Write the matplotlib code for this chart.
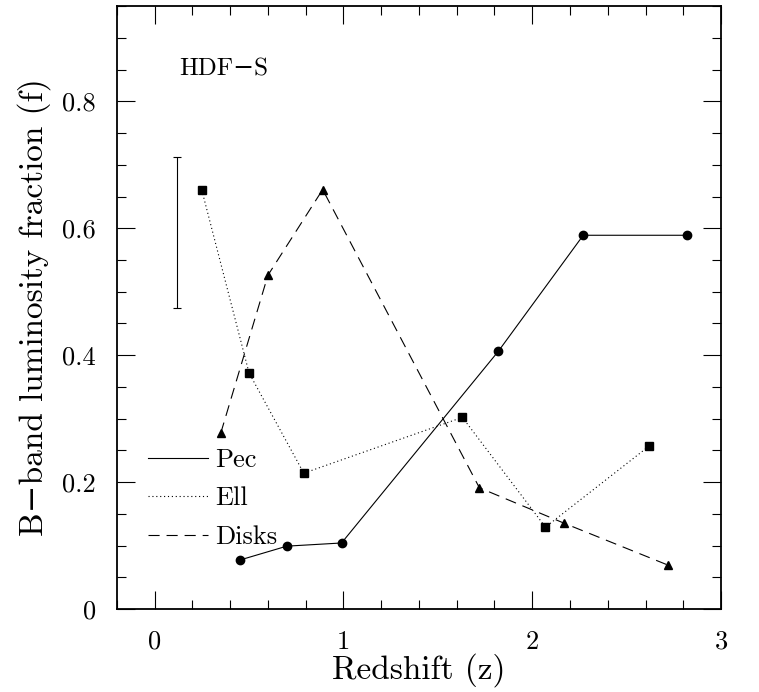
import matplotlib
matplotlib.use("Agg")
import matplotlib.pyplot as plt
import numpy as np
from matplotlib.ticker import MultipleLocator

plt.rcParams['font.family'] = ['cmr10', 'DejaVu Serif']
plt.rcParams['axes.formatter.use_mathtext'] = True
plt.rcParams['lines.scale_dashes'] = False

# Pec (solid, circles)
pec_z = [0.45, 0.70, 0.99, 1.82, 2.27, 2.82]
pec_f = [0.077, 0.099, 0.104, 0.406, 0.589, 0.589]
# Ell (dotted, squares)
ell_z = [0.25, 0.50, 0.79, 1.63, 2.07, 2.62]
ell_f = [0.660, 0.372, 0.214, 0.302, 0.129, 0.257]
# Disks (dashed, triangles)
disk_z = [0.35, 0.60, 0.89, 1.72, 2.17, 2.72]
disk_f = [0.277, 0.526, 0.661, 0.191, 0.135, 0.069]
# typical error bar
err_z = 0.12
err_f = 0.593
err_size = 0.119

fig = plt.figure(figsize=(7.59, 6.92), dpi=100)
ax = fig.add_axes([0.154, 0.120, 0.796, 0.871])

ax.plot(pec_z, pec_f, '-', color='black', lw=0.8, marker='o', ms=6, label='Pec')
ax.plot(ell_z, ell_f, color='black', lw=0.8, dashes=(0.8, 2.0), marker='s', ms=5.5, label='Ell')
ax.plot(disk_z, disk_f, color='black', lw=0.8, dashes=(8.0, 5.0), marker='^', ms=5.5, label='Disks')
ax.errorbar([err_z], [err_f], yerr=[err_size], fmt='none', ecolor='black', elinewidth=0.8, capsize=3, capthick=0.8)

ax.text(0.13, 0.85, 'HDF−S', fontsize=18, ha='left', va='center')

leg = ax.legend(loc='upper left', bbox_to_anchor=(0.051, 0.267), frameon=False, fontsize=19,
                handlelength=2.27, handletextpad=0.27, labelspacing=0.56,
                borderpad=0, borderaxespad=0)
for h in leg.legend_handles:
    h.set_marker('')

ax.set_xlim(-0.2, 3)
ax.set_ylim(0, 0.95)
ax.xaxis.set_minor_locator(MultipleLocator(0.2))
ax.yaxis.set_minor_locator(MultipleLocator(0.05))
ax.set_xticks([0, 1, 2, 3])
ax.set_xticklabels(['0', '1', '2', '3'])
ax.set_yticks([0, 0.2, 0.4, 0.6, 0.8])
ax.set_yticklabels(['0', '0.2', '0.4', '0.6', '0.8'])
ax.tick_params(which='both', direction='in', top=True, right=True, labelsize=19, width=0.8)
ax.tick_params(which='major', length=13)
ax.tick_params(which='minor', length=6.5)
ax.tick_params(axis='x', which='major', pad=15)
ax.tick_params(axis='y', which='major', pad=15)
for s in ax.spines.values():
    s.set_linewidth(1.3)

ax.set_xlabel('Redshift (z)', fontsize=24, labelpad=0)
ax.set_ylabel('B−band luminosity fraction (f)', fontsize=24, labelpad=8)

fig.savefig('out.png', dpi=100)
